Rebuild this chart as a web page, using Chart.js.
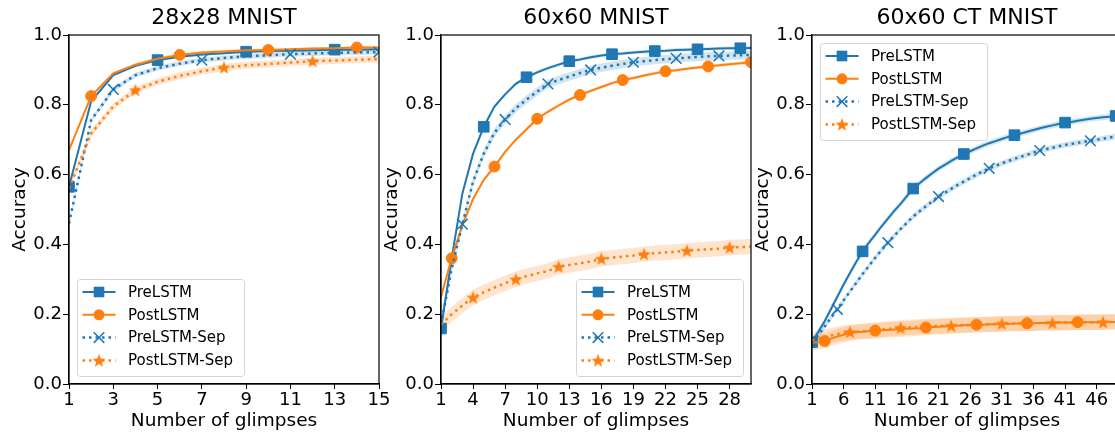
<!DOCTYPE html>
<html>
<head>
<meta charset="utf-8">
<script src="https://cdn.jsdelivr.net/npm/chart.js@4/dist/chart.umd.min.js"></script>
<style>
  html, body { margin: 0; padding: 0; background: #fff; overflow: hidden; width: 1115px; height: 435px; }
  canvas { position: absolute; top: 0; }
</style>
</head>
<body>
<canvas id="c1" width="395" height="435" style="left:0px"></canvas>
<canvas id="c2" width="395" height="435" style="left:372px"></canvas>
<canvas id="c3" width="395" height="435" style="left:743px"></canvas>
<script>
// series names (same in every panel)
const seriesNames = ['PreLSTM', 'PostLSTM', 'PreLSTM-Sep', 'PostLSTM-Sep'];
const yTicks = [0, 0.2, 0.4, 0.6, 0.8, 1.0];

// --- 28x28 MNIST ---
const glimpses1 = [1, 2, 3, 4, 5, 6, 7, 8, 9, 10, 11, 12, 13, 14, 15];
const xTicks1 = [1, 3, 5, 7, 9, 11, 13, 15];
const pre1 = [0.565, 0.810, 0.885, 0.912, 0.928, 0.938, 0.944, 0.948, 0.952, 0.954, 0.955, 0.956, 0.958, 0.958, 0.959];
const post1 = [0.670, 0.825, 0.890, 0.915, 0.932, 0.943, 0.950, 0.953, 0.956, 0.957, 0.959, 0.961, 0.962, 0.964, 0.964];
const preSep1 = [0.460, 0.756, 0.844, 0.885, 0.905, 0.918, 0.928, 0.934, 0.939, 0.942, 0.945, 0.947, 0.949, 0.950, 0.951];
const postSep1 = [0.560, 0.718, 0.795, 0.842, 0.866, 0.883, 0.896, 0.907, 0.913, 0.917, 0.921, 0.925, 0.927, 0.929, 0.931];
const spread1 = [0.004, 0.004, 0.007, 0.010];

// --- 60x60 MNIST ---
const glimpses2 = [1, 2, 3, 4, 5, 6, 7, 8, 9, 10, 11, 12, 13, 14, 15, 16, 17, 18, 19, 20, 21, 22, 23, 24, 25, 26, 27, 28, 29, 30];
const xTicks2 = [1, 4, 7, 10, 13, 16, 19, 22, 25, 28];
const pre2 = [0.159, 0.360, 0.546, 0.660, 0.737, 0.795, 0.830, 0.860, 0.879, 0.893, 0.905, 0.915, 0.925, 0.930, 0.936,
              0.941, 0.945, 0.947, 0.950, 0.952, 0.954, 0.955, 0.957, 0.958, 0.959, 0.960, 0.961, 0.962, 0.962, 0.963];
const post2 = [0.250, 0.360, 0.455, 0.530, 0.585, 0.623, 0.665, 0.700, 0.730, 0.760, 0.780, 0.798, 0.815, 0.828, 0.840,
               0.851, 0.862, 0.871, 0.877, 0.884, 0.890, 0.896, 0.899, 0.903, 0.907, 0.910, 0.913, 0.916, 0.919, 0.922];
const preSep2 = [0.170, 0.330, 0.458, 0.580, 0.660, 0.720, 0.758, 0.790, 0.815, 0.838, 0.860, 0.871, 0.881, 0.891, 0.900,
                 0.906, 0.912, 0.917, 0.922, 0.925, 0.928, 0.931, 0.933, 0.935, 0.937, 0.939, 0.940, 0.941, 0.942, 0.943];
const postSep2 = [0.170, 0.200, 0.225, 0.248, 0.263, 0.276, 0.289, 0.300, 0.309, 0.317, 0.324, 0.336, 0.341, 0.346, 0.351,
                  0.359, 0.362, 0.365, 0.368, 0.372, 0.375, 0.377, 0.379, 0.382, 0.384, 0.386, 0.388, 0.391, 0.392, 0.394];
const spread2 = [0.005, 0.005, 0.012, 0.022];

// --- 60x60 CT MNIST ---
const glimpses3 = [1, 2, 3, 4, 5, 6, 7, 8, 9, 10, 11, 12, 13, 14, 15, 16, 17, 18, 19, 20, 21, 22, 23, 24, 25,
                   26, 27, 28, 29, 30, 31, 32, 33, 34, 35, 36, 37, 38, 39, 40, 41, 42, 43, 44, 45, 46, 47, 48, 49, 50];
const xTicks3 = [1, 6, 11, 16, 21, 26, 31, 36, 41, 46];
const pre3 = [0.120, 0.150, 0.180, 0.215, 0.250, 0.285, 0.318, 0.350, 0.380, 0.405, 0.428, 0.452, 0.474, 0.496, 0.516,
              0.538, 0.560, 0.575, 0.590, 0.604, 0.617, 0.628, 0.639, 0.649, 0.659, 0.667, 0.675, 0.683, 0.690, 0.696,
              0.702, 0.708, 0.713, 0.718, 0.723, 0.728, 0.733, 0.737, 0.741, 0.745, 0.749, 0.751, 0.754, 0.757, 0.760,
              0.762, 0.764, 0.766, 0.768, 0.770];
const post3 = [0.118, 0.120, 0.123, 0.130, 0.136, 0.141, 0.145, 0.148, 0.150, 0.152, 0.153, 0.154, 0.155, 0.156, 0.157,
               0.158, 0.159, 0.160, 0.162, 0.163, 0.164, 0.165, 0.166, 0.167, 0.168, 0.169, 0.170, 0.170, 0.171, 0.171,
               0.172, 0.172, 0.173, 0.173, 0.174, 0.174, 0.175, 0.175, 0.175, 0.176, 0.176, 0.176, 0.177, 0.177, 0.177,
               0.177, 0.178, 0.178, 0.178, 0.178];
const preSep3 = [0.120, 0.140, 0.165, 0.190, 0.214, 0.240, 0.265, 0.290, 0.315, 0.338, 0.362, 0.384, 0.405, 0.425, 0.444,
                 0.462, 0.480, 0.495, 0.509, 0.523, 0.537, 0.548, 0.559, 0.570, 0.580, 0.590, 0.600, 0.609, 0.618, 0.625,
                 0.632, 0.639, 0.645, 0.651, 0.657, 0.663, 0.669, 0.673, 0.677, 0.681, 0.685, 0.688, 0.691, 0.694, 0.697,
                 0.700, 0.703, 0.706, 0.709, 0.712];
const postSep3 = [0.125, 0.130, 0.135, 0.139, 0.143, 0.146, 0.149, 0.150, 0.151, 0.152, 0.154, 0.156, 0.158, 0.159, 0.161,
                  0.162, 0.163, 0.164, 0.165, 0.166, 0.166, 0.167, 0.167, 0.168, 0.169, 0.169, 0.170, 0.170, 0.171, 0.172,
                  0.173, 0.173, 0.173, 0.174, 0.174, 0.174, 0.175, 0.175, 0.175, 0.176, 0.176, 0.176, 0.177, 0.177, 0.177,
                  0.177, 0.177, 0.178, 0.178, 0.179];
const spread3 = [0.008, 0.022, 0.008, 0.022];

Chart.defaults.font.family = "'DejaVu Sans', sans-serif";
Chart.defaults.color = '#000';
Chart.defaults.animation = false;

const BLUE = '#1f77b4';
const ORANGE = '#ff7f0e';

// filled five-point star, matplotlib '*' style
function makeStar(color, size) {
  const c = document.createElement('canvas');
  c.width = size; c.height = size;
  const g = c.getContext('2d');
  const R = size / 2, r = R * 0.42;
  g.fillStyle = color;
  g.beginPath();
  for (let i = 0; i < 10; i++) {
    const a = -Math.PI / 2 + i * Math.PI / 5;
    const rad = i % 2 ? r : R;
    g.lineTo(size / 2 + rad * Math.cos(a), size / 2 + 0.6 + rad * Math.sin(a));
  }
  g.closePath();
  g.fill();
  return c;
}
const starImg = makeStar(ORANGE, 14);

const styles = [
  { color: BLUE,   band: 'rgba(31,119,180,0.2)',  dash: [],     width: 2,   marker: 'rect',     radius: 7.5, pbw: 1 },
  { color: ORANGE, band: 'rgba(255,127,14,0.2)',  dash: [],     width: 2,   marker: 'circle',   radius: 5.5, pbw: 1 },
  { color: BLUE,   band: 'rgba(31,119,180,0.2)',  dash: [2.5, 4], width: 2.5, marker: 'crossRot', radius: 7.5, pbw: 1.5 },
  { color: ORANGE, band: 'rgba(255,127,14,0.2)',  dash: [2.5, 4], width: 2.5, marker: starImg,    radius: 7,   pbw: 1 }
];

function buildDatasets(series, spread, step, offsets) {
  const out = [];
  series.forEach((vals, k) => {
    out.push({ label: '', band: true, data: vals.map(v => v - spread[k]), borderWidth: 0, pointRadius: 0,
               fill: false, order: 10, clip: 0 });
    out.push({ label: '', band: true, data: vals.map(v => v + spread[k]), borderWidth: 0, pointRadius: 0,
               fill: '-1', backgroundColor: styles[k].band, order: 10, clip: 0 });
  });
  series.forEach((vals, k) => {
    const s = styles[k];
    out.push({
      label: seriesNames[k],
      data: vals,
      borderColor: s.color,
      backgroundColor: s.color,
      borderWidth: s.width,
      borderDash: s.dash,
      borderCapStyle: 'butt',
      tension: 0,
      fill: false,
      clip: 0,
      order: 4 - k,
      pointStyle: s.marker,
      pointBorderColor: s.color,
      pointBackgroundColor: s.color,
      pointBorderWidth: s.pbw,
      pointRadius: ctx => (ctx.dataIndex % step === offsets[k] ? s.radius : 0),
      pointHoverRadius: 0
    });
  });
  return out;
}

function drawMarker(ctx, s, x, y) {
  ctx.save();
  ctx.fillStyle = s.color;
  ctx.strokeStyle = s.color;
  ctx.setLineDash([]);
  if (s.marker === 'rect') {
    const h = s.radius * Math.SQRT1_2;
    ctx.fillRect(x - h, y - h, 2 * h, 2 * h);
  } else if (s.marker === 'circle') {
    ctx.beginPath(); ctx.arc(x, y, s.radius, 0, Math.PI * 2); ctx.fill();
  } else if (s.marker === 'crossRot') {
    const h = s.radius * Math.SQRT1_2;
    ctx.lineWidth = s.pbw;
    ctx.beginPath();
    ctx.moveTo(x - h, y - h); ctx.lineTo(x + h, y + h);
    ctx.moveTo(x - h, y + h); ctx.lineTo(x + h, y - h);
    ctx.stroke();
  } else {
    ctx.drawImage(s.marker, x - s.marker.width / 2, y - s.marker.height / 2);
  }
  ctx.restore();
}

// legend box inside the axes + top/right spines
const panelDecor = {
  id: 'panelDecor',
  afterDraw(chart, args, opts) {
    const ctx = chart.ctx;
    const a = chart.chartArea;
    ctx.save();
    ctx.strokeStyle = '#000';
    ctx.lineWidth = 1.2;
    ctx.strokeRect(a.left, a.top, a.right - a.left, a.bottom - a.top);

    const w = 167, h = 97, m = 8;
    const left = opts.corner.includes('right') ? a.right - m - w : a.left + m;
    const top = opts.corner.includes('lower') ? a.bottom - m - h : a.top + m;
    ctx.beginPath();
    ctx.roundRect(left + 0.5, top + 0.5, w, h, 3);
    ctx.fillStyle = 'rgba(255,255,255,0.8)';
    ctx.fill();
    ctx.strokeStyle = '#d4d4d4';
    ctx.lineWidth = 1;
    ctx.stroke();

    ctx.font = "15px 'DejaVu Sans'";
    ctx.textBaseline = 'middle';
    ctx.textAlign = 'left';
    seriesNames.forEach((name, k) => {
      const s = styles[k];
      const y = top + 13 + k * 22.8;
      ctx.save();
      ctx.strokeStyle = s.color;
      ctx.lineWidth = s.width;
      ctx.setLineDash(s.dash);
      ctx.lineCap = 'butt';
      ctx.beginPath();
      ctx.moveTo(left + 5.5, y);
      ctx.lineTo(left + 38.5, y);
      ctx.stroke();
      ctx.restore();
      drawMarker(ctx, s, left + 22, y);
      ctx.fillStyle = '#000';
      ctx.fillText(name, left + 51, y + 1);
    });
    ctx.restore();
  }
};

function makePanel(id, title, labels, xTicks, datasets, corner) {
  new Chart(document.getElementById(id), {
    type: 'line',
    data: { labels: labels, datasets: datasets },
    plugins: [panelDecor],
    options: {
      responsive: false,
      events: [],
      layout: { padding: { top: 0, right: 16, bottom: 0, left: 0 } },
      scales: {
        x: {
          type: 'linear',
          min: labels[0],
          max: labels[labels.length - 1],
          afterBuildTicks: s => { s.ticks = xTicks.map(v => ({ value: v })); },
          afterFit: s => { s.height = 51; },
          ticks: { autoSkip: false, maxRotation: 0, padding: 1, font: { size: 18 }, color: '#000',
                   callback: v => String(v) },
          grid: { drawOnChartArea: false, drawTicks: true, tickLength: 5, tickColor: '#000', tickWidth: 1 },
          border: { color: '#000', width: 1.2 },
          title: { display: true, text: 'Number of glimpses', font: { size: 18.5 }, color: '#000',
                   padding: { top: 0, bottom: 3 } }
        },
        y: {
          min: 0,
          max: 1,
          afterBuildTicks: s => { s.ticks = yTicks.map(v => ({ value: v })); },
          afterFit: s => { s.width = 69; },
          ticks: { padding: 1, font: { size: 18 }, color: '#000', callback: v => v.toFixed(1) },
          grid: { drawOnChartArea: false, drawTicks: true, tickLength: 6, tickColor: '#000', tickWidth: 1 },
          border: { color: '#000', width: 1.2 },
          title: { display: true, text: 'Accuracy', font: { size: 18.5 }, color: '#000',
                   padding: { top: 9, bottom: 0 } }
        }
      },
      plugins: {
        legend: { display: false },
        tooltip: { enabled: false },
        title: { display: true, text: title, fullSize: false, color: '#000',
                 font: { size: 22, weight: 'normal' }, padding: { top: 5, bottom: 3.6 } },
        panelDecor: { corner: corner }
      }
    }
  });
}

makePanel('c1', '28x28 MNIST', glimpses1, xTicks1,
  buildDatasets([pre1, post1, preSep1, postSep1], spread1, 4, [0, 1, 2, 3]), 'lower left');
makePanel('c2', '60x60 MNIST', glimpses2, xTicks2,
  buildDatasets([pre2, post2, preSep2, postSep2], spread2, 4, [0, 1, 2, 3]), 'lower right');
makePanel('c3', '60x60 CT MNIST', glimpses3, xTicks3,
  buildDatasets([pre3, post3, preSep3, postSep3], spread3, 8, [0, 2, 4, 6]), 'upper left');
</script>
</body>
</html>
